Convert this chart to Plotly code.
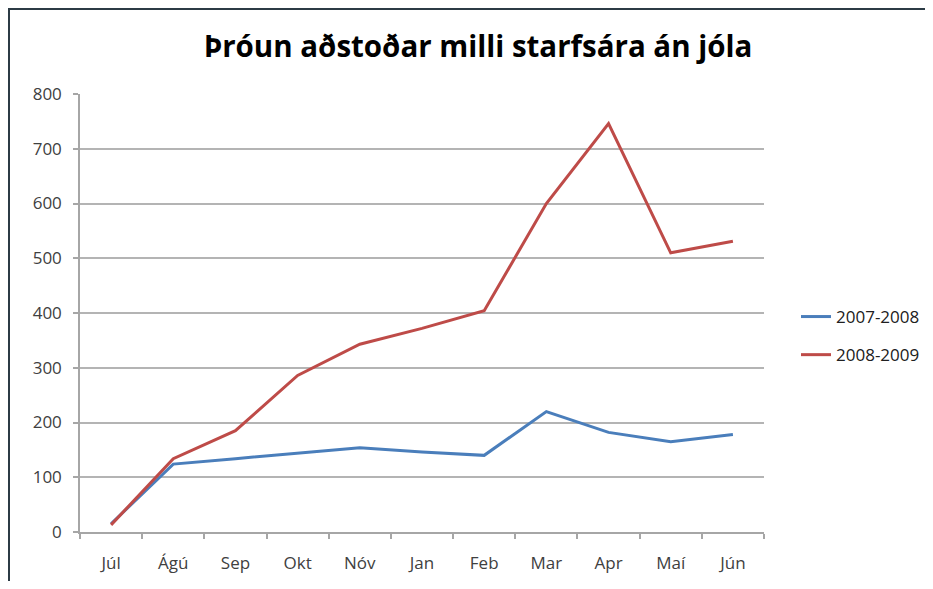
import plotly.graph_objects as go

months = ["Júl", "Ágú", "Sep", "Okt", "Nóv", "Jan", "Feb", "Mar", "Apr", "Maí", "Jún"]
s2007 = [15, 124, 134, 144, 154, 146, 140, 220, 182, 165, 178]
s2008 = [13, 134, 185, 286, 343, 372, 404, 600, 746, 510, 531]
yticks = [0, 100, 200, 300, 400, 500, 600, 700, 800]

FONT = "'Open Sans', Calibri, sans-serif"

fig = go.Figure()
fig.add_trace(go.Scatter(x=months, y=s2007, mode="lines", name="2007-2008",
                         legendgroup="a",
                         line=dict(color="#4a7ebb", width=3)))
fig.add_trace(go.Scatter(x=months, y=s2008, mode="lines", name="2008-2009",
                         legendgroup="b",
                         line=dict(color="#be4b48", width=3)))

OFF = 8  # page body margin
W, H = 917, 573
# plot area in screenshot pixels
L, R, T, B = 80, 764, 94, 532
pl, pr, pt, pb = L - OFF, R - OFF, T - OFF, B - OFF
pw, ph = pr - pl, pb - pt

def px_x(p):
    return (p - OFF - pl) / pw

def px_y(p):
    return (pb - (p - OFF)) / ph

fig.update_layout(
    width=W, height=H,
    margin=dict(l=pl, r=W - pr, t=pt, b=H - pb, pad=0, autoexpand=False),
    paper_bgcolor="white", plot_bgcolor="white",
    font=dict(family=FONT, size=17, color="#404040"),
    title=dict(text="<b>Þróun aðstoðar milli starfsára án jóla</b>",
               x=(478 - OFF) / W, xanchor="center",
               y=1 - (47 - OFF) / H, yanchor="middle",
               font=dict(family=FONT, size=29.5, color="#000000")),
    showlegend=True,
    legend=dict(x=px_x(796), xanchor="left", y=px_y(299), yanchor="top",
                font=dict(family=FONT, size=17, color="#202020"),
                bgcolor="rgba(0,0,0,0)", traceorder="grouped",
                tracegroupgap=13),
    xaxis=dict(type="category", range=[-0.5, 10.5], showgrid=False,
               showline=True, linecolor="#a6a6a6", linewidth=1.5,
               ticks="outside", tickson="boundaries", ticklen=5,
               tickcolor="#a6a6a6", tickwidth=1.5, ticklabelstandoff=15,
               tickfont=dict(family=FONT, size=17, color="#404040"),
               fixedrange=True),
    yaxis=dict(range=[0, 800], tickvals=yticks, showgrid=True,
               gridcolor="#b4b4b4", gridwidth=1.5, showline=True,
               linecolor="#a6a6a6", linewidth=1.5, ticks="outside",
               ticklen=5, tickcolor="#a6a6a6", tickwidth=1.5,
               zeroline=False, ticklabelstandoff=8,
               tickfont=dict(family=FONT, size=17, color="#404040"),
               fixedrange=True),
    shapes=[dict(type="rect", xref="paper", yref="paper",
                 x0=px_x(9), x1=px_x(960), y0=px_y(620), y1=px_y(9),
                 line=dict(color="#2c3b45", width=2), fillcolor="rgba(0,0,0,0)",
                 layer="below")],
)

fig.write_html("out.html")
